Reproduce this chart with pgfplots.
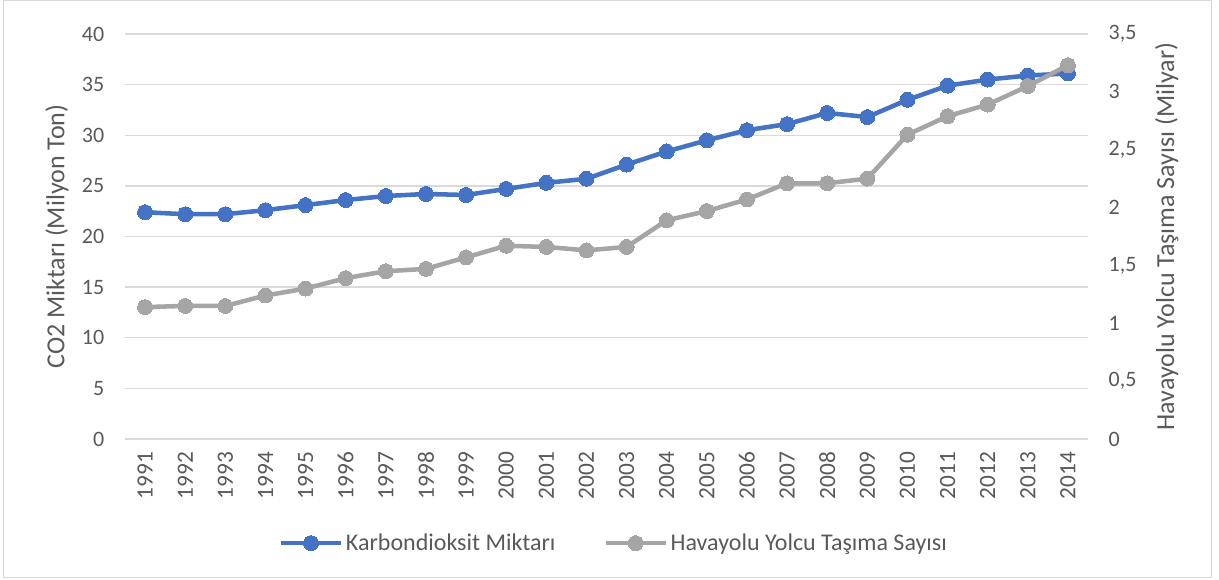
\documentclass[border=0pt]{standalone}
\usepackage{pgfplots}
\pgfplotsset{compat=1.18}
\usepackage{fontspec}
\setmainfont{Carlito}
\definecolor{cblue}{HTML}{4472C4}
\definecolor{cgray}{HTML}{A5A5A5}
\definecolor{ctext}{HTML}{595959}
\definecolor{cgrid}{HTML}{D9D9D9}
\definecolor{cframe}{HTML}{D9D9D9}

\pgfplotstableread{
x year co2
0 1991 22.4
1 1992 22.2
2 1993 22.2
3 1994 22.6
4 1995 23.1
5 1996 23.6
6 1997 24.0
7 1998 24.2
8 1999 24.1
9 2000 24.7
10 2001 25.3
11 2002 25.7
12 2003 27.1
13 2004 28.4
14 2005 29.5
15 2006 30.5
16 2007 31.1
17 2008 32.2
18 2009 31.8
19 2010 33.5
20 2011 34.9
21 2012 35.5
22 2013 35.9
23 2014 36.1
}\co

\pgfplotstableread{
x year pax
0 1991 1.14
1 1992 1.15
2 1993 1.15
3 1994 1.24
4 1995 1.30
5 1996 1.39
6 1997 1.45
7 1998 1.47
8 1999 1.57
9 2000 1.67
10 2001 1.66
11 2002 1.63
12 2003 1.66
13 2004 1.89
14 2005 1.97
15 2006 2.07
16 2007 2.21
17 2008 2.21
18 2009 2.25
19 2010 2.63
20 2011 2.79
21 2012 2.89
22 2013 3.05
23 2014 3.23
}\pax

\begin{document}
\begin{tikzpicture}
\pgfplotsset{
  common/.style={
    scale only axis,
    width=722.25pt, height=303.75pt,
    at={(0,0)}, anchor=south west,
    xmin=-0.5, xmax=23.5,
    ymin=0,
    clip=false,
    major tick length=0pt,
    tick label style={font=\fontsize{16.5}{19}\selectfont, text=ctext},
    label style={font=\fontsize{19.5}{22}\selectfont, text=ctext},
    /pgf/number format/assume math mode=true,
    /pgf/number format/use comma,
    axis line style={draw=none},
  },
}
\path[use as bounding box] (-93.75pt,-105pt) rectangle (820.5pt,329.25pt);
\draw[cframe, line width=0.75pt] (-90.75pt,-103.5pt) rectangle (814.5pt,328.5pt);

\begin{axis}[common,
  ymax=40, ytick={0,5,...,40},
  axis x line*=bottom, axis y line*=left,
  xtick={0,...,23},
  xticklabels={1991,1992,1993,1994,1995,1996,1997,1998,1999,2000,2001,2002,2003,2004,2005,2006,2007,2008,2009,2010,2011,2012,2013,2014},
  xticklabel style={font=\fontsize{17.5}{20}\selectfont, yshift=-6pt, rotate=90, anchor=east},
  yticklabel style={xshift=-12pt},
  ymajorgrids, major grid style={cgrid, line width=1.1pt},
  ylabel={CO2 Miktarı (Milyon Ton)},
  ylabel style={at={(axis description cs:-0.0706,0.5)}, anchor=center, rotate=0},
  legend columns=2,
  legend style={at={(axis description cs:0.508,-0.257)}, anchor=center, draw=none, fill=none,
    font=\fontsize{18}{21}\selectfont, text=ctext,
    /tikz/every even column/.append style={column sep=34pt}},
  legend image code/.code={\draw[mark repeat=2,mark phase=2] plot coordinates {(0cm,0cm) (0.79cm,0cm) (1.58cm,0cm)};},
]
\addplot[cblue, line width=3.4pt, mark=*, mark size=5.6pt, mark options={solid, fill=cblue, draw=cblue, line width=0pt}] table[x=x, y=co2] {\co};
\addlegendentry{Karbondioksit Miktarı}
\addlegendimage{cgray, line width=3.4pt, mark=*, mark size=5.6pt, mark options={solid, fill=cgray, draw=cgray, line width=0pt}}
\addlegendentry{Havayolu Yolcu Taşıma Sayısı}
\end{axis}

\begin{axis}[common,
  ymax=3.5, ytick={0,0.5,...,3.5},
  axis x line=none, axis y line*=right,
  yticklabel style={xshift=12pt, anchor=west},
  ylabel={Havayolu Yolcu Taşıma Sayısı (Milyar)},
  ylabel style={at={(axis description cs:1.0817,0.5)}, anchor=center, rotate=0},
]
\addplot[cgray, line width=3.4pt, mark=*, mark size=5.6pt, mark options={solid, fill=cgray, draw=cgray, line width=0pt}] table[x=x, y=pax] {\pax};
\end{axis}
\end{tikzpicture}
\end{document}
